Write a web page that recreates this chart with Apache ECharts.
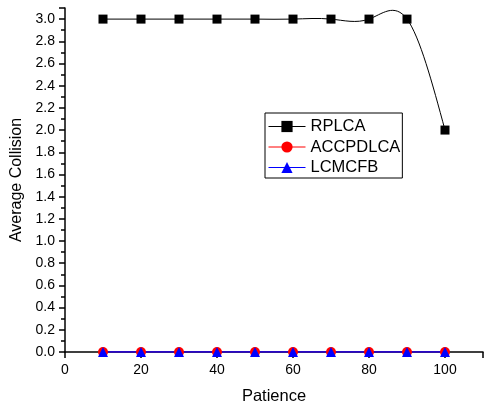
<!DOCTYPE html>
<html><head><meta charset="utf-8">
<script src="https://cdn.jsdelivr.net/npm/echarts@6/dist/echarts.min.js"></script>
<style>html,body{margin:0;padding:0;background:#fff}#c{width:485px;height:405px}</style>
</head><body><div id="c"></div>
<script>
const patience = [10, 20, 30, 40, 50, 60, 70, 80, 90, 100];
const rplca = [3, 3, 3, 3, 3, 3, 3, 3, 3, 2];
const accpdlca = [0, 0, 0, 0, 0, 0, 0, 0, 0, 0];
const lcmcfb = [0, 0, 0, 0, 0, 0, 0, 0, 0, 0];
const seriesNames = ['RPLCA', 'ACCPDLCA', 'LCMCFB'];

const font = 'Liberation Sans, Arial, sans-serif';
const pairs = arr => patience.map((x, i) => [x, arr[i]]);

// natural cubic spline second derivatives (as Origin's spline connector)
function splineM(xs, ys) {
  const n = xs.length, M = new Array(n).fill(0);
  if (n < 3) return M;
  const a = [], b = [], c = [], d = [];
  for (let i = 1; i < n - 1; i++) {
    const h0 = xs[i] - xs[i - 1], h1 = xs[i + 1] - xs[i];
    a.push(h0); b.push(2 * (h0 + h1)); c.push(h1);
    d.push(6 * ((ys[i + 1] - ys[i]) / h1 - (ys[i] - ys[i - 1]) / h0));
  }
  const m = b.length;
  for (let i = 1; i < m; i++) {
    const w = a[i] / b[i - 1];
    b[i] -= w * c[i - 1]; d[i] -= w * d[i - 1];
  }
  const sol = new Array(m);
  sol[m - 1] = d[m - 1] / b[m - 1];
  for (let i = m - 2; i >= 0; i--) sol[i] = (d[i] - c[i] * sol[i + 1]) / b[i];
  for (let i = 0; i < m; i++) M[i + 1] = sol[i];
  return M;
}
const M = splineM(patience, rplca);

const chart = echarts.init(document.getElementById('c'));
chart.setOption({
  animation: false,
  backgroundColor: '#fff',
  grid: {left: 65, right: 2, top: 8, bottom: 53, outerBoundsMode: 'none', containLabel: false},
  legend: {
    left: 265, top: 113, orient: 'vertical',
    borderColor: '#000', borderWidth: 1, padding: [5, 2, 2, 3],
    itemWidth: 37, itemHeight: 14, itemGap: 3.5,
    lineStyle: {width: 1},
    textStyle: {fontFamily: font, fontSize: 16.5, lineHeight: 16, color: '#000'},
    data: [
      {name: seriesNames[0], lineStyle: {color: '#000', opacity: 1, width: 1}},
      {name: seriesNames[1]},
      {name: seriesNames[2]}
    ]
  },
  xAxis: {
    type: 'value', min: 0, max: 110, interval: 20,
    name: 'Patience', nameLocation: 'middle', nameGap: 36,
    nameTextStyle: {fontFamily: font, fontSize: 16.5, color: '#000'},
    axisLine: {lineStyle: {color: '#000', width: 1.5}},
    axisTick: {show: true, length: 6, lineStyle: {color: '#000', width: 1.5}},
    minorTick: {show: true, splitNumber: 2, length: 4, lineStyle: {color: '#000', width: 1.5}},
    axisLabel: {fontFamily: font, fontSize: 14, color: '#000', margin: 11,
      formatter: v => v > 100 ? '' : v},
    splitLine: {show: false}
  },
  yAxis: {
    type: 'value', min: 0, max: 3.1, interval: 0.2,
    name: 'Average Collision', nameLocation: 'middle', nameGap: 38,
    nameTextStyle: {fontFamily: font, fontSize: 16, color: '#000'},
    axisLine: {show: true, lineStyle: {color: '#000', width: 1.5}},
    axisTick: {show: true, length: 6, lineStyle: {color: '#000', width: 1.5}},
    minorTick: {show: true, splitNumber: 2, length: 4, lineStyle: {color: '#000', width: 1.5}},
    axisLabel: {fontFamily: font, fontSize: 14, color: '#000', margin: 10,
      formatter: v => v > 3.01 ? '' : v.toFixed(1)},
    splitLine: {show: false}
  },
  series: [
    {name: 'RPLCA spline', type: 'custom', silent: true, z: 2,
     data: pairs(rplca), encode: {x: 0, y: 1},
     renderItem: function (params, api) {
       const i = params.dataIndex;
       if (i >= patience.length - 1) return null;
       const x0 = patience[i], x1 = patience[i + 1], y0 = rplca[i], y1 = rplca[i + 1];
       const h = x1 - x0;
       const d0 = (y1 - y0) / h - h * (2 * M[i] + M[i + 1]) / 6;
       const d1 = (y1 - y0) / h + h * (M[i] + 2 * M[i + 1]) / 6;
       const p0 = api.coord([x0, y0]), p1 = api.coord([x1, y1]);
       const c0 = api.coord([x0 + h / 3, y0 + d0 * h / 3]);
       const c1 = api.coord([x1 - h / 3, y1 - d1 * h / 3]);
       return {type: 'bezierCurve',
         shape: {x1: p0[0], y1: p0[1], x2: p1[0], y2: p1[1],
                 cpx1: c0[0], cpy1: c0[1], cpx2: c1[0], cpy2: c1[1]},
         style: {stroke: '#000', fill: null, lineWidth: 1}};
     }},
    {name: seriesNames[0], type: 'line', data: pairs(rplca), z: 3,
     symbol: 'rect', symbolSize: 9, itemStyle: {color: '#000'},
     lineStyle: {color: '#000', width: 1, opacity: 0}},
    {name: seriesNames[1], type: 'line', data: pairs(accpdlca), z: 3,
     symbol: 'circle', symbolSize: 10, itemStyle: {color: '#f00'},
     lineStyle: {color: '#f00', width: 1}},
    {name: seriesNames[2], type: 'line', data: pairs(lcmcfb), z: 3,
     symbol: 'triangle', symbolSize: 10, itemStyle: {color: '#00f'},
     lineStyle: {color: '#00f', width: 1.5}}
  ]
});
</script></body></html>
